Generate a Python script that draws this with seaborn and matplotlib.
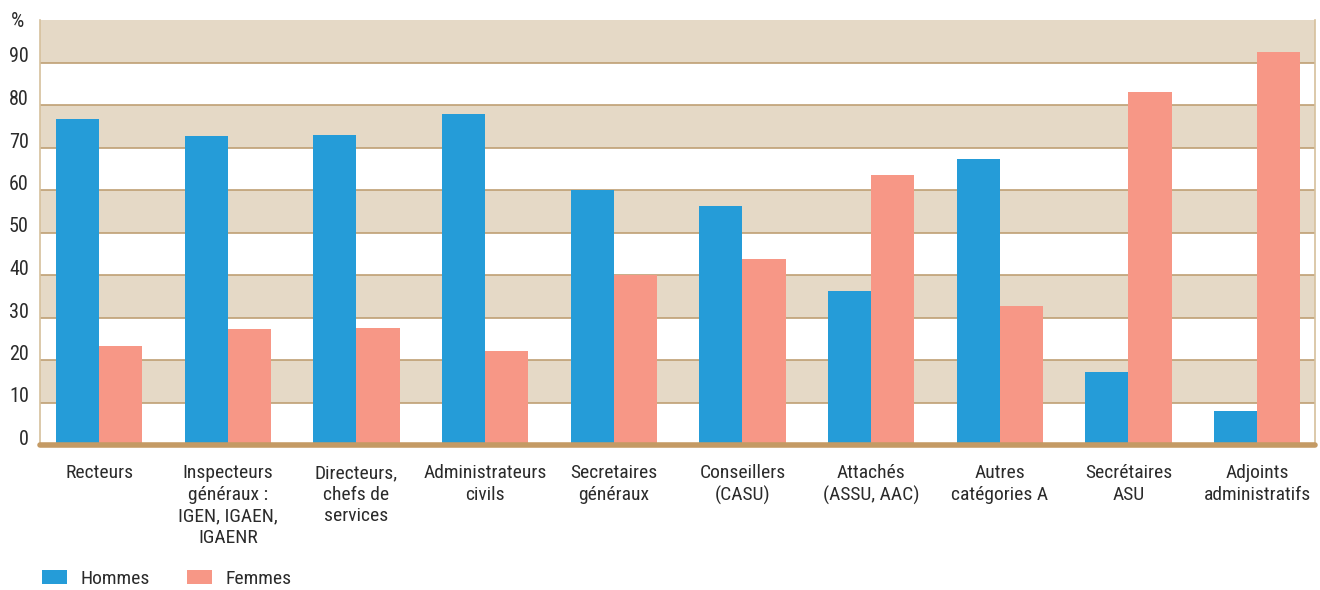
"""
Part des hommes et des femmes par corps / catégorie (en %).
Barres groupées Hommes / Femmes avec bandes beiges alternées.
"""
import pandas as pd
import matplotlib
matplotlib.use('Agg')
import matplotlib.pyplot as plt
from matplotlib import font_manager
from matplotlib.patches import Patch
import seaborn as sns

# 1. Données
categories = [
    'Recteurs',
    'Inspecteurs\ngénéraux :\nIGEN, IGAEN,\nIGAENR',
    'Directeurs,\nchefs de\nservices',
    'Administrateurs\ncivils',
    'Secretaires\ngénéraux',
    'Conseillers\n(CASU)',
    'Attachés\n(ASSU, AAC)',
    'Autres\ncatégories A',
    'Secrétaires\nASU',
    'Adjoints\nadministratifs',
]
hommes = [76.7, 72.6, 72.9, 77.9, 60.0, 56.2, 36.2, 67.4, 17.1, 8.0]
femmes = [23.3, 27.4, 27.6, 22.1, 40.0, 43.8, 63.5, 32.6, 83.0, 92.5]
series = ['Hommes', 'Femmes']
y_ticks = [0, 10, 20, 30, 40, 50, 60, 70, 80, 90]

colors = {'Hommes': '#259cd8', 'Femmes': '#f79786'}
band_color = '#e5d9c6'
line_color = '#bfa074'
base_color = '#c49a64'

df = pd.DataFrame({
    'categorie': categories * 2,
    'sexe': ['Hommes'] * len(categories) + ['Femmes'] * len(categories),
    'pct': hommes + femmes,
})

# 2. Style : police étroite si disponible
sns.set_style('white')
fonts = font_manager.fontManager.ttflist
names = {f.name for f in fonts}
narrow = [n for n in ['Liberation Sans Narrow', 'Roboto Condensed', 'Open Sans Condensed']
          if n in names]
fsize = 14
if narrow:
    plt.rcParams['font.family'] = [narrow[0], 'DejaVu Sans']
elif any(f.name == 'DejaVu Sans' and f.stretch == 'condensed' for f in fonts):
    plt.rcParams['font.family'] = ['DejaVu Sans']
    plt.rcParams['font.stretch'] = 'condensed'
    fsize = 12.5
else:
    plt.rcParams['font.family'] = ['Roboto', 'DejaVu Sans']
    fsize = 12.5
text_color = '#2b2b2b'

fig = plt.figure(figsize=(13.2, 5.9), dpi=100)
ax = fig.add_axes([40 / 1320, 1 - 445 / 590, 1275 / 1320, 425 / 590])

# bandes beiges alternées + lignes
for lo in range(10, 100, 20):
    ax.axhspan(lo, lo + 10, color=band_color, zorder=0, lw=0)
for t in y_ticks[1:]:
    ax.axhline(t, color=line_color, lw=1.2, zorder=1)

sns.barplot(data=df, x='categorie', y='pct', hue='sexe', hue_order=series,
            palette=colors, width=0.67, gap=0, saturation=1, ax=ax,
            legend=False, zorder=2, linewidth=0)

ax.set_xlim(-0.46, 9.45)
ax.set_ylim(0, 100)
ax.axhline(0, color=base_color, lw=4, zorder=3, clip_on=False)

for side in ['top', 'bottom']:
    ax.spines[side].set_visible(False)
for side in ['left', 'right']:
    ax.spines[side].set_color('#d6c09c')
    ax.spines[side].set_linewidth(1.2)

ax.set_xlabel('')
ax.set_ylabel('')
ax.set_yticks(y_ticks)
ax.set_yticklabels([str(t) for t in y_ticks], va='baseline')
ax.tick_params(axis='y', length=0, pad=8, labelsize=fsize + 0.5, labelcolor=text_color)
ax.tick_params(axis='x', length=0, pad=14, labelsize=fsize, labelcolor=text_color)
for lab in ax.get_xticklabels():
    lab.set_linespacing(1.25)

fig.text(11 / 1320, 1 - 27 / 590, '%', fontsize=fsize + 1, color=text_color)

# 3. Légende
handles = [Patch(facecolor=colors[s], edgecolor='none', label=s) for s in series]
fig.legend(handles=handles, loc='center left', bbox_to_anchor=(24 / 1320, 1 - 579 / 590),
           ncol=2, frameon=False, fontsize=fsize, handlelength=1.3, handleheight=0.7,
           handletextpad=0.7, columnspacing=1.9, labelcolor=text_color)

plt.savefig('out.png', dpi=100)
